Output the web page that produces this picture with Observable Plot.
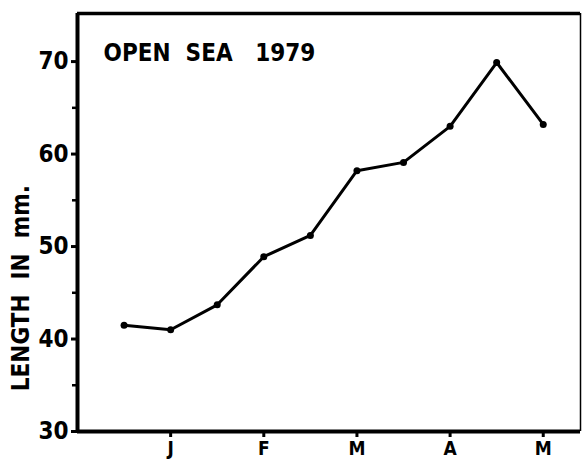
<!DOCTYPE html>
<html><head><meta charset="utf-8">
<script src="https://cdn.jsdelivr.net/npm/d3@7"></script>
<script src="https://cdn.jsdelivr.net/npm/@observablehq/plot@0.6"></script>
<style>body{margin:0;background:#fff} svg{display:block}</style>
</head><body><div id="chart"></div>
<script>
const months = [0.5, 1, 1.5, 2, 2.5, 3, 3.5, 4, 4.5, 5];
const lengths = [41.5, 41.0, 43.7, 48.9, 51.2, 58.2, 59.1, 63.0, 69.9, 63.2];
const monthTicks = [1, 2, 3, 4, 5];
const monthLabels = ["J", "F", "M", "A", "M"];
const yTicks = [30, 40, 50, 60, 70];
const yMinor = [35, 45, 55, 65];
const title = "OPEN  SEA   1979";
const yLabel = "LENGTH  IN  mm.";
const data = months.map((m, i) => ({m, v: lengths[i]}));
const font = "'DejaVu Sans Condensed', 'DejaVu Sans', sans-serif";
const xMax = 5.4, yMax = 75.2;
const plot = Plot.plot({
  width: 582, height: 462,
  marginLeft: 77, marginRight: 2, marginTop: 13, marginBottom: 31,
  style: {fontFamily: font, fontWeight: "bold", color: "#000", background: "#fff"},
  x: {domain: [0, xMax], axis: null},
  y: {domain: [30, yMax], axis: null},
  marks: [
    Plot.axisY({ticks: yTicks, tickSize: 6, tickPadding: 3, fontSize: 24, fontWeight: "bold", strokeWidth: 3, label: null}),
    Plot.axisY({ticks: yMinor, tickSize: 5, tickFormat: () => "", strokeWidth: 2.5, label: null}),
    Plot.axisX({ticks: monthTicks, tickFormat: d => monthLabels[d - 1], tickSize: 6, tickPadding: 4, fontSize: 19, fontWeight: "bold", strokeWidth: 3, label: null}),
    Plot.ruleX([0], {strokeWidth: 4}),
    Plot.ruleY([30], {strokeWidth: 4}),
    Plot.ruleY([yMax], {strokeWidth: 3.5}),
    Plot.ruleX([xMax], {strokeWidth: 1.5}),
    Plot.line(data, {x: "m", y: "v", strokeWidth: 3, stroke: "black"}),
    Plot.dot(data, {x: "m", y: "v", r: 3.5, fill: "black"}),
    Plot.text([title], {x: 0.28, y: 70.9, textAnchor: "start", fontSize: 24, fontWeight: "bold"}),
    Plot.text([yLabel], {x: 0, y: 45.5, dx: -56, rotate: -90, fontSize: 24, fontWeight: "bold"})
  ]
});
document.getElementById("chart").append(plot);
</script>
</body></html>
